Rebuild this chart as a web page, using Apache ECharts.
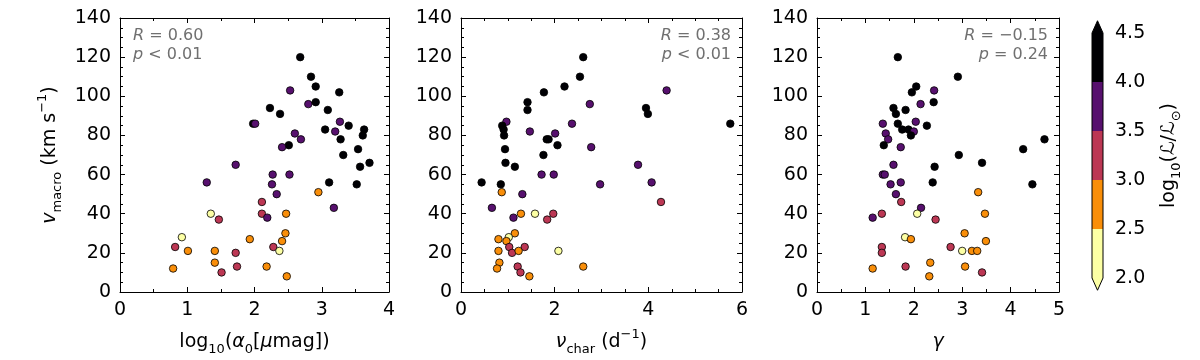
<!DOCTYPE html>
<html>
<head>
<meta charset="utf-8">
<script src="https://cdn.jsdelivr.net/npm/echarts@6/dist/echarts.min.js"></script>
<style>
html, body { margin: 0; padding: 0; background: #fff; }
#chart { width: 1200px; height: 360px; }
</style>
</head>
<body>
<div id="chart"></div>
<script>
// colour bar: log10(L/Lsun) bin edges and colours (inferno, reversed)
var lumEdges = [2.0, 2.5, 3.0, 3.5, 4.0, 4.5];
var lumColors = ['#fcffa4', '#f98e09', '#bc3754', '#57106e', '#000004'];

// stars as [x, vmacro (km/s), log10(L/Lsun)] for each panel
var alphaPts = [
  [2.68,120,4.25],[2.84,110,4.25],[2.91,105,4.25],[3.26,102,4.25],[2.53,103,3.75],[2.80,96,3.75],
  [2.91,97,4.25],[2.23,94,4.25],[2.38,91,4.25],[3.09,93,4.25],[1.98,86,4.25],[2.01,86,3.75],
  [3.27,87,3.75],[3.05,83,4.25],[3.20,82,3.75],[3.40,85,4.25],[3.63,83,4.25],[3.61,80,4.25],
  [2.60,81,3.75],[2.69,78,3.75],[3.28,78,4.25],[2.51,75,4.25],[2.41,74,3.75],[3.54,73,4.25],
  [3.32,70,4.25],[3.57,64,4.25],[3.71,66,4.25],[1.72,65,3.75],[2.27,60,3.75],[2.52,60,3.75],
  [1.29,56,3.75],[2.26,55,3.75],[3.11,56,4.25],[3.52,55,4.25],[2.33,50,3.75],[2.95,51,2.75],
  [2.11,46,3.25],[2.11,40,3.25],[2.19,38,3.75],[2.47,40,2.75],[3.18,43,3.75],[1.35,40,2.25],
  [1.47,37,3.25],[2.46,30,2.75],[1.93,27,2.75],[2.41,26,2.75],[2.28,23,3.25],[2.37,21,2.25],
  [0.92,28,2.25],[0.82,23,3.25],[1.01,21,2.75],[1.41,21,2.75],[1.72,20,3.25],[1.41,15,2.75],
  [1.74,13,3.25],[2.18,13,2.75],[1.51,10,3.25],[0.79,12,2.75],[2.48,8,2.75]
];
var nuPts = [
  [2.61,120,4.25],[2.54,110,4.25],[2.21,105,4.25],[1.77,102,4.25],[4.39,103,3.75],[1.42,97,4.25],
  [1.42,93,4.25],[2.75,96,3.75],[3.95,94,4.25],[3.99,91,4.25],[5.75,86,4.25],[0.97,87,3.75],
  [0.88,85,4.25],[0.91,83,4.25],[0.92,80,4.25],[1.47,82,3.75],[2.37,86,3.75],[2.01,81,3.75],
  [1.83,78,4.25],[1.87,78,4.25],[2.06,75,4.25],[2.78,74,3.75],[0.94,73,4.25],[1.76,70,4.25],
  [0.95,66,4.25],[1.15,64,4.25],[3.78,65,3.75],[1.72,60,3.75],[1.98,60,3.75],[0.44,56,4.25],
  [0.85,55,4.25],[2.97,55,3.75],[4.07,56,3.75],[1.31,50,3.75],[0.87,51,2.75],[0.66,43,3.75],
  [4.27,46,3.25],[1.12,38,3.75],[1.28,40,2.75],[1.58,40,2.25],[1.97,40,3.25],[1.84,37,3.25],
  [1.15,30,2.75],[1.02,28,2.25],[0.80,27,2.75],[0.97,26,2.75],[1.03,23,3.25],[1.36,23,3.25],
  [1.09,20,3.25],[1.23,21,2.75],[0.80,21,2.75],[2.08,21,2.25],[0.82,15,2.75],[0.77,12,2.75],
  [2.61,13,2.75],[1.21,13,3.25],[1.27,10,3.25],[1.46,8,2.75]
];
var gammaPts = [
  [1.67,120,4.25],[2.91,110,4.25],[2.05,105,4.25],[1.96,102,4.25],[2.42,103,3.75],[2.41,97,4.25],
  [2.14,96,3.75],[1.58,94,4.25],[1.63,91,4.25],[1.83,93,4.25],[1.36,86,3.75],[1.67,86,4.25],
  [2.04,87,3.75],[2.27,85,4.25],[1.42,81,3.75],[1.76,83,4.25],[1.89,83,4.25],[2.00,82,3.75],
  [1.94,80,4.25],[1.47,78,3.75],[4.70,78,4.25],[4.26,73,4.25],[1.38,75,4.25],[1.73,74,3.75],
  [2.93,70,4.25],[3.41,66,4.25],[2.43,64,4.25],[1.58,65,3.75],[1.36,60,3.75],[1.40,60,3.75],
  [1.52,55,3.75],[1.73,56,3.75],[2.39,56,4.25],[4.45,55,4.25],[1.63,50,3.75],[3.33,51,2.75],
  [1.74,46,3.25],[1.34,40,3.25],[2.15,43,3.75],[1.15,38,3.75],[2.07,40,2.25],[2.45,37,3.25],
  [3.47,40,2.75],[3.05,30,2.75],[1.82,28,2.25],[1.94,27,2.75],[3.49,26,2.75],[1.34,23,3.25],
  [1.34,20,3.25],[2.76,23,3.25],[3.00,21,2.25],[3.20,21,2.75],[3.31,21,2.75],[2.34,15,2.75],
  [1.15,12,2.75],[1.83,13,3.25],[3.06,13,2.75],[2.32,8,2.75],[3.41,10,3.25]
];

// correlation stats shown in each panel
var statR = ['0.60', '0.38', '\u22120.15'];
var statP = ['< 0.01', '< 0.01', '= 0.24'];

var FONT = 'DejaVu Sans';
var ext = 0.125; // length of the colour bar end triangles (in log L)

var rich = {
  sub: { fontFamily: FONT, fontSize: 13, lineHeight: 13, verticalAlign: 'bottom' },
  sup: { fontFamily: FONT, fontSize: 13, lineHeight: 13, verticalAlign: 'top' },
  it: { fontFamily: FONT, fontSize: 19, fontStyle: 'italic' }
};

var panels = [
  { left: 120, width: 269, xmax: 4, step: 1, minor: 2, data: alphaPts,
    name: 'log{sub|10}({it|\u03b1}{sub|0}[{it|\u03bc}mag])' },
  { left: 461, width: 281, xmax: 6, step: 2, minor: 4, data: nuPts,
    name: '{it|\u03bd}{sub|char} (d{sup|\u22121})' },
  { left: 817, width: 242, xmax: 5, step: 1, minor: 2, data: gammaPts,
    name: '{it|\u03b3}' }
];

function axisBase(gridIndex, min, max, step, minor, showLabel) {
  return {
    type: 'value', gridIndex: gridIndex, min: min, max: max, interval: step,
    axisLine: { show: true, onZero: false, lineStyle: { color: '#000', width: 1 } },
    axisTick: { show: true, inside: true, length: 5, lineStyle: { color: '#000', width: 1 } },
    minorTick: { show: true, splitNumber: minor, length: 3, lineStyle: { color: '#000', width: 1 } },
    axisLabel: { show: showLabel, fontFamily: FONT, fontSize: 19, color: '#000', margin: 9 },
    splitLine: { show: false }
  };
}

var grids = [], xAxes = [], yAxes = [], series = [], graphics = [];

panels.forEach(function (p, i) {
  grids.push({ left: p.left, top: 18, width: p.width, height: 274, containLabel: false, outerBoundsMode: 'none' });

  var xb = axisBase(i, 0, p.xmax, p.step, p.minor, true);
  xb.position = 'bottom';
  xb.name = p.name;
  xb.nameLocation = 'middle';
  xb.nameGap = 36;
  xb.nameTextStyle = { fontFamily: FONT, fontSize: 19, color: '#000', lineHeight: 28, rich: rich };
  xAxes.push(xb);
  var xt = axisBase(i, 0, p.xmax, p.step, p.minor, false);
  xt.position = 'top';
  xAxes.push(xt);

  var yl = axisBase(i, 0, 140, 20, 4, true);
  yl.position = 'left';
  if (i === 0) {
    yl.name = '{it|v}{sub|macro} (km s{sup|\u22121})';
    yl.nameLocation = 'middle';
    yl.nameGap = 56;
    yl.nameRotate = 90;
    yl.nameTextStyle = { fontFamily: FONT, fontSize: 19, color: '#000', lineHeight: 28, rich: rich };
  }
  yAxes.push(yl);
  var yr = axisBase(i, 0, 140, 20, 4, false);
  yr.position = 'right';
  yAxes.push(yr);

  series.push({
    type: 'scatter', xAxisIndex: 2 * i, yAxisIndex: 2 * i, data: p.data,
    symbolSize: 7.5,
    itemStyle: { opacity: 1, borderColor: '#000', borderWidth: 0.8 }
  });

  var right = i > 0;
  var tx = right ? p.left + p.width - 11 : p.left + 13;
  graphics.push({
    type: 'text', x: tx, y: 36,
    style: { text: '{it|R} = ' + statR[i], fontFamily: FONT, fontSize: 16, fill: '#707070',
      align: right ? 'right' : 'left', verticalAlign: 'middle',
      rich: { it: { fontStyle: 'italic', fontFamily: FONT, fontSize: 16, fill: '#707070' } } }
  });
  graphics.push({
    type: 'text', x: tx, y: 55,
    style: { text: '{it|p} ' + statP[i], fontFamily: FONT, fontSize: 16, fill: '#707070',
      align: right ? 'right' : 'left', verticalAlign: 'middle',
      rich: { it: { fontStyle: 'italic', fontFamily: FONT, fontSize: 16, fill: '#707070' } } }
  });
});

// colour bar
grids.push({ left: 1092, top: 33, width: 11, height: 245, containLabel: false, outerBoundsMode: 'none' });
xAxes.push({ type: 'value', gridIndex: 3, min: 0, max: 1, show: false });
yAxes.push({
  type: 'value', gridIndex: 3, min: lumEdges[0], max: lumEdges[lumEdges.length - 1], interval: 0.5,
  position: 'right',
  axisLine: { show: false },
  axisTick: { show: true, inside: false, length: 5, lineStyle: { color: '#000', width: 1 } },
  axisLabel: { fontFamily: FONT, fontSize: 19, color: '#000', margin: 12,
    formatter: function (v) { return v.toFixed(1); } },
  splitLine: { show: false },
  name: 'log{sub|10}(\u2112/\u2112{sub|\u2299})',
  nameLocation: 'middle', nameRotate: 90, nameGap: 52,
  nameTextStyle: { fontFamily: FONT, fontSize: 19, color: '#000', lineHeight: 28, rich: rich }
});

var binData = [];
for (var k = 0; k < lumColors.length; k++) binData.push([lumEdges[k], lumEdges[k + 1]]);

series.push({
  type: 'custom', xAxisIndex: 6, yAxisIndex: 6, clip: false, silent: true,
  data: binData,
  renderItem: function (params, api) {
    var lo = api.value(0), hi = api.value(1), i = params.dataIndex;
    var a = api.coord([0, lo]), b = api.coord([1, hi]);
    var kids = [{ type: 'rect', shape: { x: a[0], y: b[1], width: b[0] - a[0], height: a[1] - b[1] },
      style: { fill: lumColors[i] } }];
    if (i === 0) {
      kids.push({ type: 'polygon', shape: { points: [a, [b[0], a[1]], api.coord([0.5, lo - ext])] },
        style: { fill: lumColors[i] } });
    }
    if (i === lumColors.length - 1) {
      kids.push({ type: 'polygon', shape: { points: [[a[0], b[1]], b, api.coord([0.5, hi + ext])] },
        style: { fill: lumColors[i] } });
    }
    return { type: 'group', children: kids };
  }
});
series.push({
  type: 'custom', xAxisIndex: 6, yAxisIndex: 6, clip: false, silent: true,
  data: [[lumEdges[0], lumEdges[lumEdges.length - 1]]],
  renderItem: function (params, api) {
    var lo = api.value(0), hi = api.value(1);
    var pts = [api.coord([0.5, lo - ext]), api.coord([1, lo]), api.coord([1, hi]),
      api.coord([0.5, hi + ext]), api.coord([0, hi]), api.coord([0, lo])];
    return { type: 'polygon', shape: { points: pts }, style: { fill: 'none', stroke: '#000', lineWidth: 1 } };
  }
});

var chart = echarts.init(document.getElementById('chart'), null, { renderer: 'canvas' });
chart.setOption({
  animation: false,
  backgroundColor: '#fff',
  grid: grids,
  xAxis: xAxes,
  yAxis: yAxes,
  visualMap: {
    type: 'piecewise', show: false, dimension: 2, seriesIndex: [0, 1, 2],
    pieces: lumColors.map(function (c, i) { return { min: lumEdges[i], max: lumEdges[i + 1], color: c }; })
  },
  series: series,
  graphic: graphics
});
</script>
</body>
</html>
